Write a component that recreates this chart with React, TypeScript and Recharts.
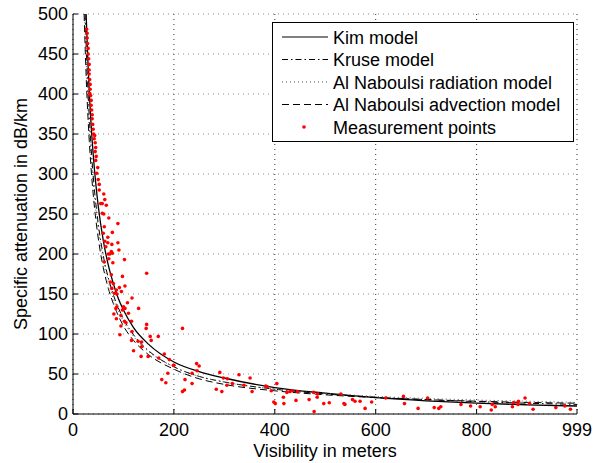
import React from 'react';
import { ComposedChart, Line, Scatter, XAxis, YAxis, CartesianGrid } from 'recharts';

const W = 594;
const H = 463;

const xTicks = [0, 200, 400, 600, 800, 999];
const yTicks = [0, 50, 100, 150, 200, 250, 300, 350, 400, 450, 500];

const seriesNames = [
  'Kim model',
  'Kruse model',
  'Al Naboulsi radiation model',
  'Al Naboulsi advection model',
  'Measurement points',
];

// Kim model (solid)
const kimV = [26, 30, 35, 40, 45, 50, 60, 70, 80, 90, 100, 120, 150, 200, 250, 300, 400, 500, 600, 700, 800, 900, 999];
const kimA = [500, 433, 371, 325, 289, 260, 217, 186, 163, 144, 130, 108, 87, 65, 53, 45, 33, 26, 20.5, 16.5, 13.5, 11.5, 10];

// Kruse model (dash-dot)
const kruV = [24, 28, 32, 36, 40, 50, 60, 70, 80, 100, 120, 150, 200, 250, 300, 400, 500, 600, 700, 800, 900, 999];
const kruA = [500, 428, 374, 332, 298, 238, 198, 170, 149, 119, 99, 79, 59, 47, 40, 31, 25, 21, 18, 15.5, 13.5, 12];

// Al Naboulsi radiation model (dotted)
const radV = [23, 26, 30, 35, 40, 50, 60, 70, 80, 100, 120, 150, 200, 250, 300, 400, 500, 600, 700, 800, 900, 999];
const radA = [500, 442, 383, 329, 288, 231, 192, 165, 144, 116, 97, 78, 59, 47, 40, 31, 26, 22, 19.5, 17.5, 16, 14.5];

// Al Naboulsi advection model (dashed)
const advV = [22, 26, 30, 35, 40, 50, 60, 70, 80, 100, 120, 150, 200, 250, 300, 400, 500, 600, 700, 800, 900, 999];
const advA = [500, 423, 367, 314, 275, 220, 183, 157, 138, 110, 92, 74, 56, 44, 37, 29, 24, 20.5, 18, 16, 14.5, 13.5];

// Measurement points [visibility m, attenuation dB/km]
const measPoints: [number, number][] = [
  [27, 481], [28, 476], [28, 470], [29, 463], [30, 457], [30, 450], [31, 444], [32, 437], [32, 430], [32, 425],
  [33, 418], [34, 412], [34, 406], [33, 401], [35, 398], [36, 392], [36, 386], [37, 380], [38, 374], [38, 369],
  [39, 362], [40, 356], [41, 350], [43, 348], [42, 344], [44, 339], [45, 333], [44, 328], [46, 322], [45, 317],
  [49, 308], [47, 301], [50, 293], [52, 287], [52, 280], [61, 275], [63, 268], [55, 263], [58, 263], [66, 261],
  [58, 251], [61, 250], [71, 245], [89, 238], [62, 234], [78, 227], [60, 226], [69, 221], [63, 216], [69, 214],
  [89, 214], [77, 212], [65, 209], [91, 205], [76, 203], [70, 200], [78, 201], [73, 200], [102, 193], [62, 190],
  [79, 189], [71, 194], [146, 176],
  [76, 174], [98, 172], [74, 165], [80, 163], [103, 160], [92, 158], [77, 157], [86, 155], [96, 153], [82, 151],
  [87, 150], [117, 145], [108, 139], [87, 134], [85, 132], [100, 134], [103, 132], [98, 130], [130, 132], [110, 126],
  [81, 125], [95, 123], [86, 119], [102, 116], [116, 116], [105, 114], [146, 112], [95, 110], [145, 107], [117, 103],
  [217, 107], [93, 99], [153, 97], [169, 97], [129, 91], [136, 90], [155, 92], [116, 92], [136, 84], [120, 79],
  [181, 75], [135, 72], [149, 72], [170, 70], [191, 68], [199, 61],
  [200, 61], [245, 63], [250, 60], [246, 54], [236, 51], [188, 51], [222, 43], [176, 43], [184, 39], [236, 38],
  [221, 30], [217, 28], [284, 31], [291, 52], [298, 45], [306, 44], [295, 28], [305, 36], [316, 38], [329, 49],
  [339, 36], [351, 45], [355, 28], [382, 35], [385, 34], [393, 29], [404, 38], [398, 15], [401, 13], [418, 13],
  [417, 21], [424, 27], [430, 28], [434, 29], [442, 17], [445, 28], [468, 18], [477, 27], [485, 25], [484, 21],
  [497, 13], [508, 14], [478, 3], [531, 25], [537, 13], [539, 12], [554, 18], [559, 16], [569, 16], [579, 7],
  [592, 15], [620, 20], [655, 22], [657, 13], [684, 7], [703, 20], [716, 8], [725, 7], [729, 9], [769, 12],
  [788, 10], [807, 9], [831, 12], [829, 5], [837, 9], [871, 9], [873, 14], [883, 16], [882, 12], [896, 20],
  [905, 13], [912, 6], [957, 8], [975, 10], [986, 6],
];

const toRows = (vs: number[], as: number[]) => vs.map((v, i) => ({ v, a: as[i] }));
const kimData = toRows(kimV, kimA);
const kruData = toRows(kruV, kruA);
const radData = toRows(radV, radA);
const advData = toRows(advV, advA);
const measData = measPoints.map(([v, a]) => ({ v, a }));

const FONT = '"Liberation Sans", Arial, Helvetica, sans-serif';
const tickStyle = { fill: '#000', fontSize: 18, fontFamily: FONT };

const legendStyles = [
  { dash: undefined as string | undefined, stroke: '#000' },
  { dash: '6 3 1.5 3', stroke: '#000' },
  { dash: '1 3', stroke: '#555' },
  { dash: '7 4', stroke: '#000' },
];

export default function App() {
  return (
    <div style={{ position: 'absolute', left: 0, top: 0, width: W, height: H, background: '#fff', fontFamily: FONT }}>
      <ComposedChart width={W} height={H} margin={{ top: 14, right: 17, bottom: 0, left: 0 }}>
        <CartesianGrid horizontal={false} vertical stroke="#333" strokeDasharray="1 4" />
        <CartesianGrid horizontal vertical={false} stroke="#888" strokeDasharray="1 4" />
        <XAxis
          dataKey="v"
          type="number"
          domain={[0, 999]}
          allowDataOverflow
          ticks={xTicks}
          interval={0}
          height={49}
          stroke="#000"
          tickSize={-5}
          tickMargin={14}
          tick={tickStyle}
          label={(props: any) => {
            const vb = props.viewBox;
            return (
              <text x={vb.x + vb.width / 2} y={vb.y + vb.height - 6} textAnchor="middle" fill="#000" fontSize={18} fontFamily={FONT}>
                Visibility in meters
              </text>
            );
          }}
        />
        <XAxis
          xAxisId="top"
          orientation="top"
          type="number"
          domain={[0, 999]}
          allowDataOverflow
          ticks={xTicks}
          interval={0}
          height={0}
          stroke="#000"
          tickSize={-5}
          tick={false}
        />
        <YAxis
          type="number"
          domain={[0, 500]}
          allowDataOverflow
          ticks={yTicks}
          interval={0}
          width={73}
          stroke="#000"
          tickSize={-5}
          tickMargin={10}
          tick={tickStyle}
          label={(props: any) => {
            const vb = props.viewBox;
            const cx = vb.x + 21;
            const cy = vb.y + vb.height / 2;
            return (
              <text x={cx} y={cy} transform={`rotate(-90, ${cx}, ${cy})`} textAnchor="middle" dominantBaseline="central" fill="#000" fontSize={18} fontFamily={FONT}>
                Specific attenuation in dB/km
              </text>
            );
          }}
        />
        <YAxis
          yAxisId="right"
          orientation="right"
          type="number"
          domain={[0, 500]}
          allowDataOverflow
          ticks={yTicks}
          interval={0}
          width={0}
          stroke="#000"
          tickSize={-5}
          tick={false}
        />
        <Line data={kimData} dataKey="a" type="monotone" stroke="#000" strokeWidth={1.3} dot={false} activeDot={false} isAnimationActive={false} />
        <Line data={kruData} dataKey="a" type="monotone" stroke="#000" strokeWidth={1} strokeDasharray="6 3 1.5 3" dot={false} activeDot={false} isAnimationActive={false} />
        <Line data={radData} dataKey="a" type="monotone" stroke="#555" strokeWidth={1} strokeDasharray="1 3" dot={false} activeDot={false} isAnimationActive={false} />
        <Line data={advData} dataKey="a" type="monotone" stroke="#000" strokeWidth={1} strokeDasharray="7 4" dot={false} activeDot={false} isAnimationActive={false} />
        <Scatter
          data={measData}
          dataKey="a"
          isAnimationActive={false}
          shape={(p: any) => <circle cx={p.cx} cy={p.cy} r={1.8} fill="#ff0000" />}
        />
      </ComposedChart>
      <svg width={W} height={H} style={{ position: 'absolute', left: 0, top: 0, pointerEvents: 'none' }}>
        <rect x={272.5} y={22.5} width={301} height={119} fill="#fff" stroke="#000" strokeWidth={1} />
        {seriesNames.map((name, i) => {
          const cy = 37 + i * 22.5;
          return (
            <g key={name}>
              {i < 4 ? (
                <line x1={282} x2={328} y1={cy} y2={cy} stroke={legendStyles[i].stroke} strokeWidth={1} strokeDasharray={legendStyles[i].dash} />
              ) : (
                <circle cx={304} cy={cy} r={1.8} fill="#ff0000" />
              )}
              <text x={333} y={cy + 6.5} fill="#000" fontSize={18} fontFamily={FONT}>
                {name}
              </text>
            </g>
          );
        })}
      </svg>
    </div>
  );
}
